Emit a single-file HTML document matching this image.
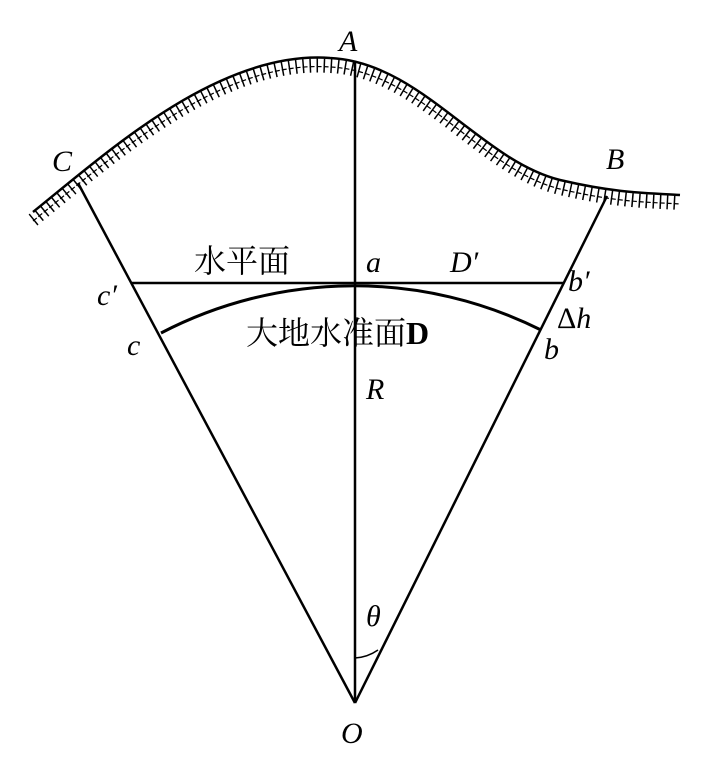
<!DOCTYPE html>
<html><head><meta charset="utf-8"><style>
html,body{margin:0;padding:0;background:#fff;}
svg{display:block}
.i{font-family:"Liberation Serif",serif;font-style:italic;font-size:30px;fill:#000}
.c{font-family:"Liberation Serif","Noto Serif CJK SC",serif;font-size:32px;fill:#000}
</style></head><body>
<svg width="709" height="770" viewBox="0 0 709 770" xmlns="http://www.w3.org/2000/svg">
<g fill="none" stroke="#000">
<path d="M33,212 C110,150 220,50 330,58 C420,62 480,160 560,180 C620,194 650,193 680,195" stroke-width="2.5"/>
<path d="M33,212 C110,150 220,50 330,58 C420,62 480,160 560,180 C620,194 650,193 680,195" stroke-width="14" stroke-dasharray="1.5,5.5" transform="translate(0,8)"/>
<path d="M33,212 C110,150 220,50 330,58 C420,62 480,160 560,180 C620,194 650,193 680,195" stroke-width="1.2" transform="translate(0,9)" stroke-dasharray="5,2"/>
<line x1="355" y1="62" x2="355" y2="703" stroke-width="2.5"/>
<line x1="78" y1="183" x2="355" y2="703" stroke-width="2.5"/>
<line x1="607" y1="196" x2="355" y2="703" stroke-width="2.5"/>
<line x1="132" y1="283" x2="564" y2="283" stroke-width="2.5"/>
<path d="M161,333 A418,418 0 0 1 541,330" stroke-width="3"/>
<path d="M355,658 A45,45 0 0 0 378,650" stroke-width="1.5"/>
</g>
<text class="i" x="339" y="51">A</text>
<text class="i" x="52" y="171">C</text>
<text class="i" x="606" y="169">B</text>
<text class="c" x="194" y="272">水平面</text>
<text class="i" x="366" y="272">a</text>
<text class="i" x="450" y="272">D′</text>
<text class="i" x="568" y="291">b′</text>
<text class="i" x="97" y="305">c′</text>
<text class="i" x="557" y="328" style="font-style:normal">Δ<tspan font-style="italic">h</tspan></text>
<text class="c" x="246" y="344">大地水准面<tspan font-weight="bold">D</tspan></text>
<text class="i" x="127" y="355">c</text>
<text class="i" x="544" y="359">b</text>
<text class="i" x="366" y="399">R</text>
<text class="i" x="366" y="626">θ</text>
<text class="i" x="341" y="743">O</text>
</svg>
</body></html>
